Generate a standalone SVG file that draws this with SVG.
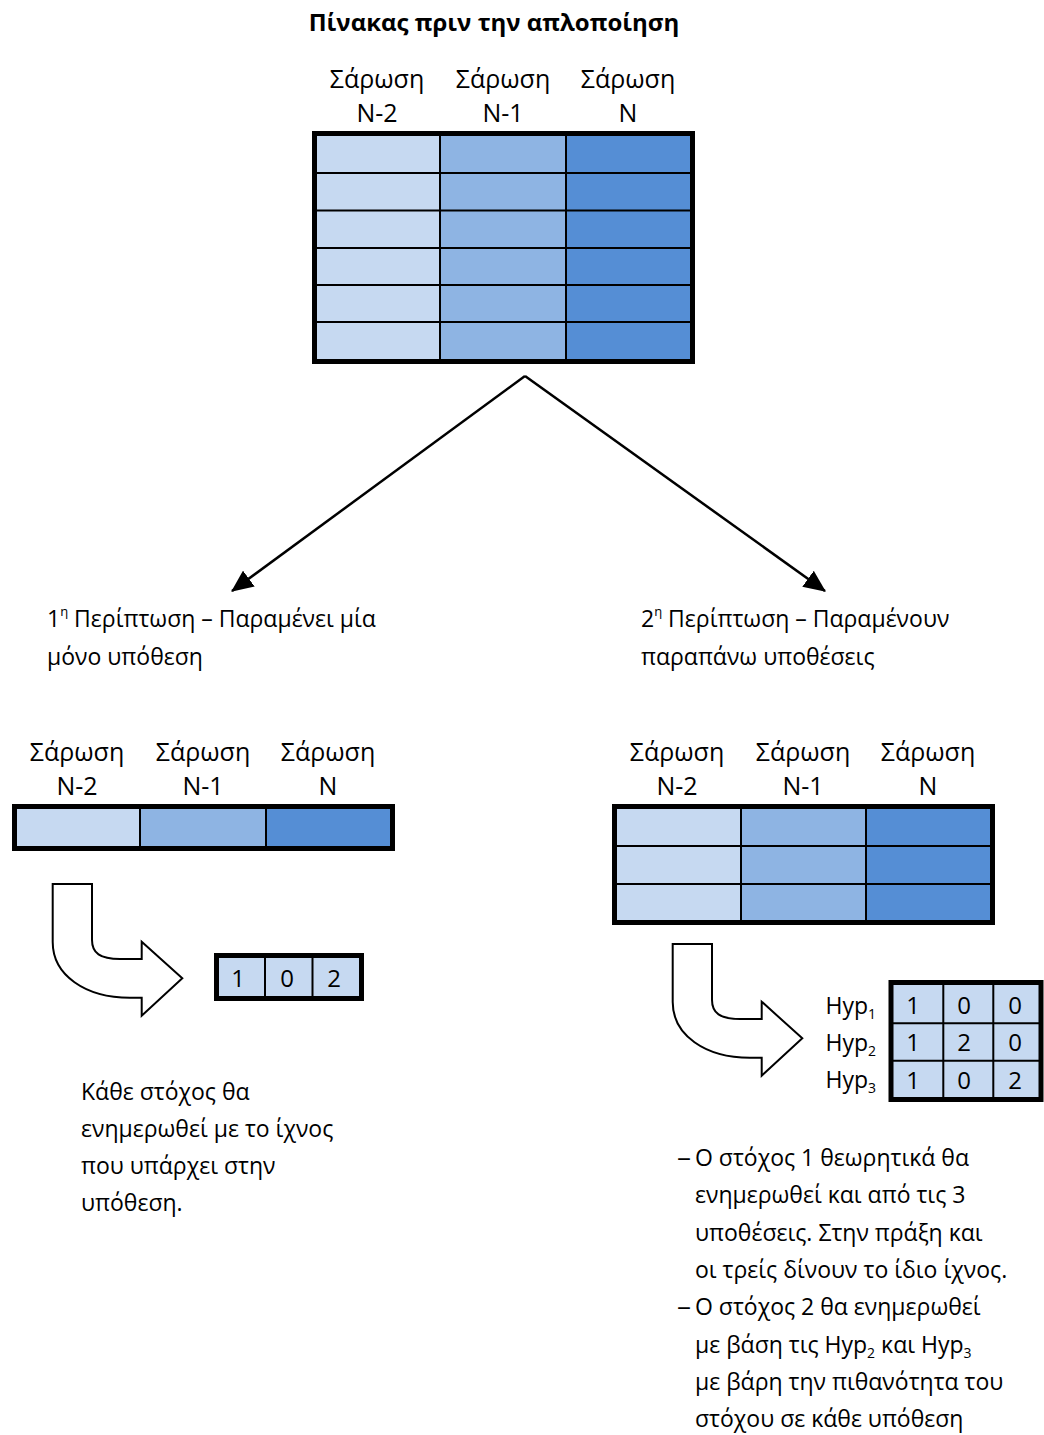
<svg xmlns="http://www.w3.org/2000/svg" width="1044" height="1435" viewBox="0 0 1044 1435">
<defs>
<style>
text{font-family:"Open Sans","Noto Sans","DejaVu Sans",sans-serif;fill:#000}
.t{font-size:23px}
.h{font-size:25px;text-anchor:middle}
.n{font-size:24px;text-anchor:middle}
.title{font-size:24px;font-weight:bold;text-anchor:middle}
.c1{fill:#C6D9F1}
.c2{fill:#8EB4E3}
.c3{fill:#558ED5}
.frame{fill:none;stroke:#000;stroke-width:5}
.grid{stroke:#000;stroke-width:2;fill:none}
.conn{stroke:#000;stroke-width:2.5;fill:none}
.bent{fill:#fff;stroke:#000;stroke-width:2;stroke-linejoin:miter}
</style>
<marker id="ahb" viewBox="0 0 20 18" refX="19" refY="9" markerWidth="22" markerHeight="20" markerUnits="userSpaceOnUse" orient="auto">
<path d="M0,0 L20,9 L0,18 Z" fill="#000"/>
</marker>
<path id="bentArrow" d="M52.7,884 H92 V940 C92,953 100,959 120,959 H141.7 V941.7 L182.3,978.3 L141.7,1015.7 V997.7 H130 C85,997.7 52.7,975 52.7,942 Z"/>
</defs>
<rect width="1044" height="1435" fill="#fff"/>

<g id="title">
<text class="title" x="494" y="31">Πίνακας πριν την απλοποίηση</text>
</g>

<g id="table-before">
<text class="h" x="377" y="88">Σάρωση</text>
<text class="h" x="503" y="88">Σάρωση</text>
<text class="h" x="628" y="88">Σάρωση</text>
<text class="h" x="377" y="122">N-2</text>
<text class="h" x="503" y="122">N-1</text>
<text class="h" x="628" y="122">N</text>
<rect class="c1" x="314" y="133" width="126" height="229"/>
<rect class="c2" x="440" y="133" width="126" height="229"/>
<rect class="c3" x="566" y="133" width="127" height="229"/>
<path class="grid" d="M440,133 V362 M566,133 V362 M314,173 H693 M314,210.5 H693 M314,248 H693 M314,285 H693 M314,322 H693"/>
<rect class="frame" x="314.5" y="133.5" width="378" height="228"/>
</g>

<g id="connectors">
<path class="conn" d="M525,376 L232,591" marker-end="url(#ahb)"/>
<path class="conn" d="M525,376 L825,591" marker-end="url(#ahb)"/>
</g>

<g id="case1">
<text class="t" x="47" y="627">1<tspan font-size="13" dy="-11">η</tspan><tspan dy="11"> Περίπτωση – Παραμένει μία</tspan></text>
<text class="t" x="47" y="665">μόνο υπόθεση</text>
</g>

<g id="case2">
<text class="t" x="641" y="627">2<tspan font-size="13" dy="-11">η</tspan><tspan dy="11"> Περίπτωση – Παραμένουν</tspan></text>
<text class="t" x="641" y="665">παραπάνω υποθέσεις</text>
</g>

<g id="table-case1">
<text class="h" x="77" y="761">Σάρωση</text>
<text class="h" x="203" y="761">Σάρωση</text>
<text class="h" x="328" y="761">Σάρωση</text>
<text class="h" x="77" y="795">N-2</text>
<text class="h" x="203" y="795">N-1</text>
<text class="h" x="328" y="795">N</text>
<rect class="c1" x="14" y="806" width="126" height="43"/>
<rect class="c2" x="140" y="806" width="126" height="43"/>
<rect class="c3" x="266" y="806" width="127" height="43"/>
<path class="grid" d="M140,806 V849 M266,806 V849"/>
<rect class="frame" x="14.5" y="806.5" width="378" height="42"/>
</g>

<g id="table-case2">
<text class="h" x="677" y="761">Σάρωση</text>
<text class="h" x="803" y="761">Σάρωση</text>
<text class="h" x="928" y="761">Σάρωση</text>
<text class="h" x="677" y="795">N-2</text>
<text class="h" x="803" y="795">N-1</text>
<text class="h" x="928" y="795">N</text>
<rect class="c1" x="614" y="806" width="127" height="117"/>
<rect class="c2" x="741" y="806" width="125" height="117"/>
<rect class="c3" x="866" y="806" width="127" height="117"/>
<path class="grid" d="M741,806 V923 M866,806 V923 M614,846 H993 M614,884 H993"/>
<rect class="frame" x="614.5" y="806.5" width="378" height="116"/>
</g>

<g id="bent-arrow-1">
<use href="#bentArrow" class="bent"/>
</g>

<g id="bent-arrow-2">
<use href="#bentArrow" class="bent" transform="translate(620,60)"/>
</g>

<g id="result-case1">
<rect class="c1" x="216.5" y="955.5" width="145" height="43"/>
<path class="grid" d="M265,956 V998 M312.5,956 V998"/>
<rect class="frame" x="216.5" y="955.5" width="145" height="43"/>
<text class="n" x="238" y="987">1</text>
<text class="n" x="287" y="987">0</text>
<text class="n" x="334" y="987">2</text>
</g>

<g id="result-case2">
<text class="t" x="876" y="1014" text-anchor="end">Hyp<tspan font-size="14" dy="5">1</tspan></text>
<text class="t" x="876" y="1051" text-anchor="end">Hyp<tspan font-size="14" dy="5">2</tspan></text>
<text class="t" x="876" y="1088" text-anchor="end">Hyp<tspan font-size="14" dy="5">3</tspan></text>
<rect class="c1" x="891" y="982.5" width="150" height="117"/>
<path class="grid" d="M943.3,983 V1100 M993.3,983 V1100 M891,1023.3 H1041 M891,1060.7 H1041"/>
<rect class="frame" x="891" y="982.5" width="150" height="117"/>
<text class="n" x="913" y="1014">1</text>
<text class="n" x="964" y="1014">0</text>
<text class="n" x="1015" y="1014">0</text>
<text class="n" x="913" y="1051">1</text>
<text class="n" x="964" y="1051">2</text>
<text class="n" x="1015" y="1051">0</text>
<text class="n" x="913" y="1089">1</text>
<text class="n" x="964" y="1089">0</text>
<text class="n" x="1015" y="1089">2</text>
</g>

<g id="note-case1">
<text class="t" x="81" y="1100">Κάθε στόχος θα</text>
<text class="t" x="81" y="1137">ενημερωθεί με το ίχνος</text>
<text class="t" x="81" y="1174">που υπάρχει στην</text>
<text class="t" x="81" y="1211">υπόθεση.</text>
</g>

<g id="note-case2">
<text class="t" x="677" y="1166" textLength="14" lengthAdjust="spacingAndGlyphs">–</text>
<text class="t" x="695" y="1166">Ο στόχος 1 θεωρητικά θα</text>
<text class="t" x="695" y="1203">ενημερωθεί και από τις 3</text>
<text class="t" x="695" y="1240.5">υποθέσεις. Στην πράξη και</text>
<text class="t" x="695" y="1278">οι τρείς δίνουν το ίδιο ίχνος.</text>
<text class="t" x="677" y="1315" textLength="14" lengthAdjust="spacingAndGlyphs">–</text>
<text class="t" x="695" y="1315">Ο στόχος 2 θα ενημερωθεί</text>
<text class="t" x="695" y="1352.5">με βάση τις Hyp<tspan font-size="14" dy="5">2</tspan><tspan dy="-5"> και Hyp</tspan><tspan font-size="14" dy="5">3</tspan></text>
<text class="t" x="695" y="1390">με βάρη την πιθανότητα του</text>
<text class="t" x="695" y="1427">στόχου σε κάθε υπόθεση</text>
</g>
</svg>
